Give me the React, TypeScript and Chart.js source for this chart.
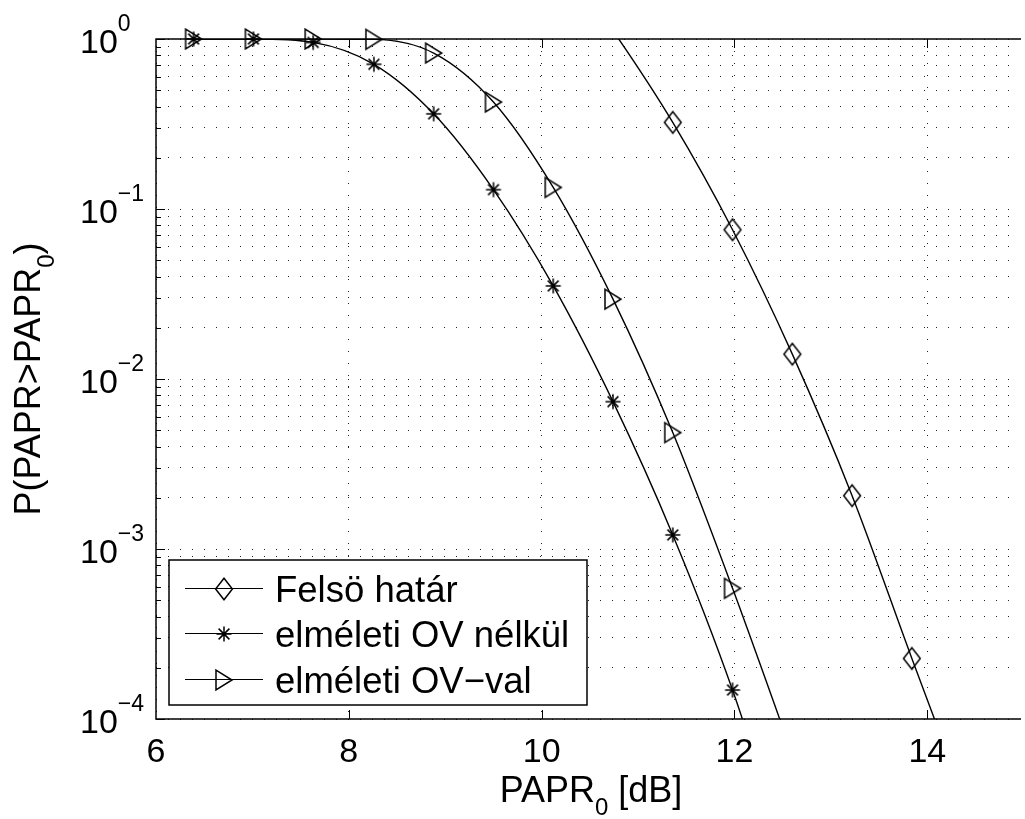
import React, { useEffect, useRef } from "react";
import { Chart, registerables } from "chart.js";

Chart.register(...registerables);

// ---- data ----
const xDb = [6.39, 7.01, 7.63, 8.26, 8.88, 9.5, 10.12, 10.74, 11.36, 11.98, 12.6, 13.22, 13.84, 14.46];
const upperBound = [null, null, null, null, null, null, 3.4, 1.12, 0.323, 0.0755, 0.014, 0.00206, 0.000227, 0.000026];
const noOversampling = [1, 1, 0.955, 0.71, 0.363, 0.13, 0.0353, 0.00736, 0.00121, 0.000148, 0.000012, null, null, null];
const withOversampling = [1, 1, 1, 0.995, 0.827, 0.426, 0.134, 0.0295, 0.00484, 0.000587, 0.000062, null, null, null];
const seriesLabels = ["Felsö határ", "elméleti OV nélkül", "elméleti OV−val"];
const seriesMarkers = ["diamond", "asterisk", "triangle"];
const xTickValues = [6, 8, 10, 12, 14];
const yDecades = [0, -1, -2, -3, -4];
const yExpLabels = ["0", "−1", "−2", "−3", "−4"];
const X_MIN = 6;
const X_MAX = 14.92;
const Y_MIN = 1e-4;
const Y_MAX = 1;

const FONT = '"Liberation Sans", Arial, Helvetica, sans-serif';

type Run = { text: string; size: number; dy?: number };

function runsWidth(ctx: CanvasRenderingContext2D, runs: Run[]) {
  let w = 0;
  for (const r of runs) {
    ctx.font = `${r.size}px ${FONT}`;
    w += ctx.measureText(r.text).width;
  }
  return w;
}
function drawRuns(ctx: CanvasRenderingContext2D, runs: Run[], x: number, y: number) {
  let cx = x;
  ctx.textAlign = "left";
  ctx.textBaseline = "alphabetic";
  for (const r of runs) {
    ctx.font = `${r.size}px ${FONT}`;
    ctx.fillText(r.text, cx, y + (r.dy || 0));
    cx += ctx.measureText(r.text).width;
  }
}

function makeMarker(kind: string): HTMLCanvasElement {
  const c = document.createElement("canvas");
  const w = kind === "diamond" ? 22 : kind === "triangle" ? 20 : 18;
  const h = kind === "diamond" ? 26 : kind === "triangle" ? 24 : 18;
  c.width = w;
  c.height = h;
  const g = c.getContext("2d")!;
  g.strokeStyle = "#000";
  g.lineWidth = 1.5;
  const cx = w / 2;
  const cy = h / 2;
  g.beginPath();
  if (kind === "diamond") {
    const hw = 8.4, hh = 10.8;
    g.moveTo(cx, cy - hh);
    g.lineTo(cx + hw, cy);
    g.lineTo(cx, cy + hh);
    g.lineTo(cx - hw, cy);
    g.closePath();
  } else if (kind === "triangle") {
    const hw = 8, hh = 9.8;
    g.moveTo(cx - hw, cy - hh);
    g.lineTo(cx + hw, cy);
    g.lineTo(cx - hw, cy + hh);
    g.closePath();
  } else {
    const r = 7.5;
    const d = r * 0.72;
    g.moveTo(cx - r, cy);
    g.lineTo(cx + r, cy);
    g.moveTo(cx, cy - r);
    g.lineTo(cx, cy + r);
    g.moveTo(cx - d, cy - d);
    g.lineTo(cx + d, cy + d);
    g.moveTo(cx - d, cy + d);
    g.lineTo(cx + d, cy - d);
  }
  g.stroke();
  return c;
}

function toPoints(vals: (number | null)[]) {
  const pts: { x: number; y: number }[] = [];
  vals.forEach((v, i) => {
    if (v !== null) pts.push({ x: xDb[i], y: v });
  });
  return pts;
}

export default function App() {
  const ref = useRef<HTMLCanvasElement | null>(null);

  useEffect(() => {
    if (!ref.current) return;
    const markers = seriesMarkers.map(makeMarker);
    const series = [upperBound, noOversampling, withOversampling];

    const datasets: any[] = [];
    series.forEach((vals, i) => {
      datasets.push({
        label: seriesLabels[i],
        data: toPoints(vals),
        borderColor: "#000",
        borderWidth: 1.4,
        pointRadius: 0,
        fill: false,
        cubicInterpolationMode: "monotone",
      });
    });
    series.forEach((vals, i) => {
      datasets.push({
        label: seriesLabels[i] + " markers",
        data: toPoints(vals).filter((p) => p.y >= Y_MIN * 0.999 && p.y <= Y_MAX * 1.001),
        showLine: false,
        pointStyle: markers[i],
        pointRadius: 8,
        borderColor: "#000",
        backgroundColor: "transparent",
        clip: false,
      });
    });

    const yGridValues: number[] = [];
    for (let k = -4; k < 0; k++) for (let m = 1; m <= 9; m++) yGridValues.push(m * Math.pow(10, k));
    yGridValues.push(1);

    const decorations = {
      id: "decorations",
      beforeDatasetsDraw(chart: any) {
        const { ctx, chartArea: a, scales } = chart;
        const xs = scales.x;
        const ys = scales.y;
        ctx.save();
        ctx.strokeStyle = "#000";
        ctx.lineWidth = 1.5;
        ctx.beginPath();
        ctx.moveTo(a.right + 5, a.top);
        ctx.lineTo(a.left, a.top);
        ctx.lineTo(a.left, a.bottom);
        ctx.lineTo(a.right + 5, a.bottom);
        ctx.stroke();
        ctx.lineWidth = 1;
        ctx.beginPath();
        for (const v of xTickValues) {
          if (v === X_MIN) continue;
          const px = Math.round(xs.getPixelForValue(v)) + 0.5;
          ctx.moveTo(px, a.bottom);
          ctx.lineTo(px, a.bottom - 9);
          ctx.moveTo(px, a.top);
          ctx.lineTo(px, a.top + 9);
        }
        for (const v of yGridValues) {
          const py = Math.round(ys.getPixelForValue(v)) + 0.5;
          const lg = Math.log10(v);
          const major = Math.abs(lg - Math.round(lg)) < 1e-9;
          ctx.moveTo(a.left, py);
          ctx.lineTo(a.left + (major ? 9 : 5), py);
        }
        ctx.stroke();
        ctx.restore();
      },
      afterDraw(chart: any) {
        const { ctx, scales } = chart;
        const xs = scales.x;
        const ys = scales.y;
        ctx.save();
        ctx.fillStyle = "#000";
        // x tick labels
        ctx.font = `34px ${FONT}`;
        ctx.textAlign = "center";
        ctx.textBaseline = "alphabetic";
        for (const v of xTickValues) {
          ctx.fillText(String(v), xs.getPixelForValue(v), 762);
        }
        // y tick labels
        yDecades.forEach((k, i) => {
          const py = ys.getPixelForValue(Math.pow(10, k));
          ctx.font = `34px ${FONT}`;
          ctx.textAlign = "left";
          ctx.fillText("10", 80, py + 13.5);
          const w = ctx.measureText("10").width;
          ctx.font = `23px ${FONT}`;
          ctx.fillText(yExpLabels[i], 80 + w, py - 8);
        });
        // x title
        const xRuns: Run[] = [
          { text: "PAPR", size: 36 },
          { text: "0", size: 24, dy: 13 },
          { text: " [dB]", size: 36 },
        ];
        const xw = runsWidth(ctx, xRuns);
        drawRuns(ctx, xRuns, 591 - xw / 2, 802);
        // y title
        const yRuns: Run[] = [
          { text: "P(PAPR>PAPR", size: 36 },
          { text: "0", size: 24, dy: 14 },
          { text: ")", size: 36 },
        ];
        const yw = runsWidth(ctx, yRuns);
        ctx.save();
        ctx.translate(40, 379);
        ctx.rotate(-Math.PI / 2);
        drawRuns(ctx, yRuns, -yw / 2, 0);
        ctx.restore();
        // legend
        const bx = 169, by = 560, bw = 418, bh = 145;
        ctx.fillStyle = "#fff";
        ctx.fillRect(bx, by, bw, bh);
        ctx.strokeStyle = "#000";
        ctx.lineWidth = 1.5;
        ctx.strokeRect(bx, by, bw, bh);
        const baselines = [601.5, 646.5, 692.5];
        seriesLabels.forEach((lab, i) => {
          const my = Math.round(baselines[i] - 13.5) + 0.5;
          ctx.lineWidth = 1.2;
          ctx.beginPath();
          ctx.moveTo(185, my);
          ctx.lineTo(263, my);
          ctx.stroke();
          const mk = markers[i];
          ctx.drawImage(mk, Math.round(224 - mk.width / 2), Math.round(my - mk.height / 2));
          ctx.fillStyle = "#000";
          ctx.font = `36.5px ${FONT}`;
          ctx.textAlign = "left";
          ctx.fillText(lab, 275, baselines[i]);
        });
        ctx.restore();
      },
    };

    const chart = new Chart(ref.current, {
      type: "line",
      data: { datasets },
      options: {
        animation: false,
        responsive: false,
        devicePixelRatio: 1,
        layout: { padding: { left: 156, top: 39, right: 0, bottom: 100 } },
        plugins: { legend: { display: false }, tooltip: { enabled: false } },
        elements: { line: { tension: 0 } },
        scales: {
          x: {
            type: "linear",
            min: X_MIN,
            max: X_MAX,
            afterBuildTicks: (s: any) => {
              s.ticks = xTickValues.map((v) => ({ value: v }));
            },
            afterFit: (s: any) => {
              s.height = 0;
            },
            ticks: { display: false },
            grid: { color: "#222", lineWidth: 1, drawTicks: false },
            border: { display: false, dash: [1, 11] },
          },
          y: {
            type: "logarithmic",
            min: Y_MIN,
            max: Y_MAX,
            afterBuildTicks: (s: any) => {
              s.ticks = yGridValues.map((v) => ({ value: v }));
            },
            afterFit: (s: any) => {
              s.width = 0;
            },
            ticks: { display: false },
            grid: { color: "#222", lineWidth: 1, drawTicks: false },
            border: { display: false, dash: [1, 11] },
          },
        },
      } as any,
      plugins: [decorations],
    });
    return () => chart.destroy();
  }, []);

  return (
    <div style={{ position: "fixed", left: 0, top: 0, width: 1025, height: 819, background: "#fff" }}>
      <canvas ref={ref} width={1025} height={819} style={{ display: "block" }} />
    </div>
  );
}
